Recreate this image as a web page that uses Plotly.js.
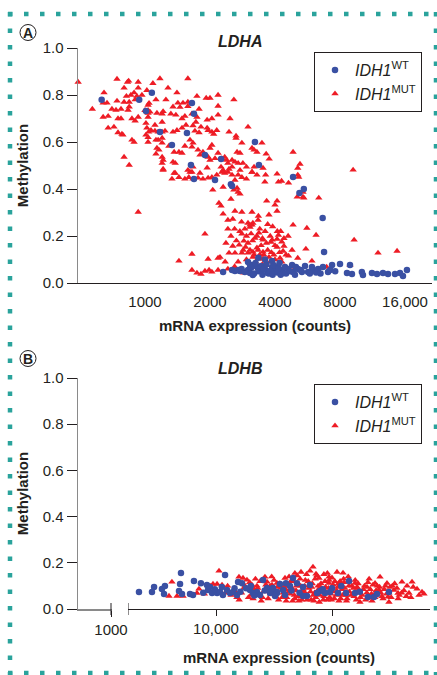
<!DOCTYPE html>
<html>
<head>
<meta charset="utf-8">
<script src="https://cdn.plot.ly/plotly-3.0.1.min.js"></script>
<style>html,body{margin:0;padding:0;background:#fff;}#chart{width:437px;height:675px;}</style>
</head>
<body>
<div id="chart"></div>
<script>
// ---------- DATA ----------
// Panel A (LDHA): [mRNA counts, methylation]
const ldhaWt = [
[630,0.78],[940,0.78],[1076,0.81],[1650,0.766],[1686,0.72],[1010,0.732],[1173,0.643],[1564,0.638],[1333,0.587],[1895,0.545],
[2250,0.528],[1632,0.502],[3230,0.60],[3370,0.502],[1686,0.443],[2110,0.438],[2500,0.42],[2530,0.413],[4850,0.451],[5440,0.40],
[5190,0.383],[6650,0.277],[6750,0.132],[3880,0.094],[8000,0.081],[8900,0.077],
[2300,0.047],[2530,0.055],[2610,0.051],[2700,0.055],[2750,0.051],[3000,0.089],[3130,0.077],[3000,0.055],[3064,0.043],[3160,0.034],
[3064,0.077],[3300,0.068],[3410,0.055],[3590,0.06],[3700,0.043],[3880,0.068],[4000,0.055],[4310,0.055],[4360,0.043],[4600,0.06],
[4800,0.077],[4850,0.047],[5110,0.06],[5330,0.047],[5510,0.072],[5690,0.047],[5930,0.068],[6000,0.055],[6330,0.06],[6670,0.068],
[7040,0.047],[7350,0.077],[8620,0.043],[9090,0.038],[10100,0.047],[10220,0.034],[11250,0.043],[11870,0.038],[12650,0.043],[13350,0.038],
[14380,0.038],[15170,0.043],[15660,0.03],[16340,0.055],
[2800,0.06],[2900,0.047],[3100,0.065],[3200,0.04],[3250,0.085],[3350,0.05],[3450,0.072],[3500,0.035],[3550,0.06],[3650,0.08],
[3750,0.04],[3800,0.052],[3900,0.035],[3950,0.075],[4100,0.045],[4150,0.065],[4250,0.035],[4450,0.068],[4500,0.04],[4700,0.05],
[4950,0.035],[5000,0.068],[5250,0.055],[5800,0.04],[6200,0.045],[6500,0.04],[7200,0.055],[7600,0.05],[3350,0.107],[3600,0.1],[4200,0.085]
];
const ldhaMut = [
[490,0.855],[742,0.868],[840,0.86],[830,0.855],[930,0.855],[1173,0.87],[1580,0.87],[1088,0.85],[800,0.83],[930,0.83],
[1020,0.82],[1278,0.83],[1406,0.81],[646,0.81],[890,0.81],[860,0.80],[968,0.80],[820,0.795],[917,0.795],[1124,0.78],
[1250,0.78],[1740,0.795],[1920,0.787],[2000,0.787],[2180,0.80],[2580,0.78],[640,0.766],[667,0.766],[742,0.775],[800,0.77],
[845,0.77],[900,0.78],[1044,0.765],[1033,0.757],[1420,0.766],[1500,0.766],[1580,0.77],[2180,0.753],[570,0.74],[703,0.74],
[734,0.736],[774,0.74],[845,0.75],[835,0.736],[1000,0.735],[1033,0.735],[1055,0.728],[1213,0.73],[1200,0.72],[1348,0.75],
[1580,0.752],[1452,0.748],[1780,0.74],[640,0.706],[675,0.71],[750,0.70],[774,0.70],[870,0.70],[900,0.69],[930,0.706],
[1033,0.706],[1033,0.723],[1136,0.723],[1200,0.685],[1318,0.72],[1390,0.715],[1484,0.70],[1530,0.71],[1650,0.72],[1720,0.685],
[1740,0.706],[1940,0.694],[2040,0.70],[2180,0.715],[2475,0.70],[675,0.66],[718,0.664],[750,0.64],[782,0.634],[790,0.63],
[1010,0.68],[1020,0.66],[1040,0.643],[1010,0.63],[1066,0.65],[1112,0.647],[1150,0.643],[1200,0.643],[1238,0.647],[1348,0.643],
[1406,0.65],[1484,0.66],[1548,0.672],[1668,0.67],[1703,0.647],[1780,0.64],[1816,0.664],[1940,0.66],[1960,0.65],[2040,0.643],
[2080,0.634],[2150,0.65],[2450,0.643],[2640,0.626],[2640,0.617],[3000,0.664],[800,0.536],[845,0.502],[870,0.609],[890,0.60],
[1033,0.60],[1033,0.62],[1124,0.609],[1150,0.609],[1200,0.617],[1136,0.574],[1160,0.566],[1124,0.549],[1200,0.536],[1213,0.523],
[1200,0.51],[1348,0.515],[1380,0.51],[1364,0.557],[1436,0.557],[1484,0.553],[1290,0.583],[1530,0.583],[1616,0.609],[1668,0.596],
[1650,0.579],[1580,0.48],[1616,0.472],[1760,0.566],[1797,0.545],[1855,0.557],[2000,0.574],[2040,0.587],[1960,0.536],[2000,0.523],
[2110,0.53],[2180,0.553],[2270,0.53],[2340,0.536],[2420,0.51],[2390,0.523],[2530,0.523],[2610,0.515],[2700,0.51],[2810,0.596],
[1940,0.49],[1797,0.468],[1668,0.494],[2250,0.494],[2300,0.48],[2450,0.485],[2530,0.494],[2754,0.48],[2840,0.51],[2950,0.494],
[2670,0.557],[2754,0.553],[1213,0.485],[1380,0.468],[1200,0.596],[1112,0.672],
[3480,0.596],[3130,0.574],[3200,0.566],[3300,0.557],[3640,0.549],[3760,0.528],[4850,0.557],[5224,0.506],[5100,0.489],[3200,0.494],
[3520,0.489],[9200,0.481],
[1213,0.48],[1364,0.468],[1436,0.45],[1333,0.443],[1530,0.443],[1596,0.45],[1650,0.472],[1668,0.443],[1760,0.447],[1855,0.443],
[1960,0.447],[2040,0.45],[2150,0.46],[2270,0.472],[2340,0.468],[2420,0.472],[2530,0.46],[2610,0.438],[2700,0.46],[2810,0.45],
[2950,0.443],[3130,0.472],[2060,0.396],[2300,0.408],[2580,0.396],[2700,0.387],[2754,0.379],[2670,0.404],[2200,0.34],[2250,0.328],
[2500,0.357],[930,0.302],[2300,0.294],[2610,0.306],[2810,0.302],[2550,0.272],[2420,0.268],[2420,0.23],[3000,0.255],[3130,0.247],
[3064,0.238],[1895,0.209],[2810,0.209],[2870,0.179],[2370,0.17],[2550,0.157],[2730,0.162],[2920,0.153],[3064,0.14],[1650,0.123],
[1436,0.094],[1960,0.102],[2180,0.106],[2225,0.11],[2450,0.128],[2610,0.128],[2810,0.128],[3000,0.128],[3160,0.132],[1650,0.055],
[1740,0.043],[1816,0.038],[1895,0.051],[1980,0.055],[2040,0.047],[2180,0.055],[2420,0.06],[2730,0.055],[2870,0.043],[3000,0.06],
[3130,0.472],[3300,0.46],[3620,0.46],[3590,0.43],[4090,0.464],[4150,0.43],[4290,0.434],[4620,0.426],[5100,0.46],[5150,0.451],
[5390,0.387],[5070,0.366],[5390,0.366],[5440,0.362],[6380,0.362],[3660,0.349],[4000,0.332],[4090,0.349],[4090,0.306],[3130,0.302],
[3160,0.255],[3340,0.268],[3064,0.247],[4850,0.247],[5620,0.234],[6200,0.204],[9300,0.183],[3370,0.213],[3230,0.191],[3520,0.183],
[3880,0.183],[4150,0.204],[4090,0.187],[3830,0.174],[3340,0.14],[3520,0.132],[3700,0.14],[4090,0.153],[4400,0.157],[4360,0.136],
[5560,0.145],[12000,0.128],[14700,0.136],[3160,0.11],[3410,0.106],[3520,0.102],[4220,0.106],[4620,0.115],[5100,0.106],[5930,0.094],
[3300,0.068],[4090,0.068],[4950,0.068],[6940,0.068],[8900,0.077],
[2900,0.23],[3300,0.2],[3450,0.16],[3600,0.22],[3750,0.11],[3950,0.12],[2950,0.1],[3250,0.09],[3500,0.08],[3800,0.09],
[4000,0.1],[3700,0.25],[3900,0.24],[4250,0.22],[4400,0.19],[3150,0.18],[2950,0.2],[2650,0.18],[2750,0.22],[2600,0.23],
[3400,0.12],[3650,0.075],[3950,0.08],[4300,0.09],
[2700,0.09],[2850,0.14],[3000,0.17],[3100,0.21],[3200,0.12],[3300,0.15],[3400,0.23],[3500,0.19],[3550,0.12],[3650,0.17],
[3800,0.2],[3850,0.13],[4000,0.16],[4100,0.22],[4200,0.13],[4300,0.175],[4500,0.12],[4600,0.2],[4800,0.14],[2800,0.26],
[2500,0.2],[2350,0.09],[2600,0.07],[3350,0.285],[3750,0.29]
];
// Panel B (LDHB): [mRNA counts, methylation]
const ldhbWt = [
[3360,0.074],[4480,0.074],[4660,0.095],[5340,0.087],[5600,0.10],[5520,0.065],[6980,0.156],[6900,0.108],[6810,0.078],[7070,0.065],
[8100,0.121],[7760,0.065],[8020,0.061],[8700,0.112],[9220,0.104],[9310,0.082],[9480,0.095],[9660,0.069],[10780,0.147],[10090,0.069],
[10340,0.074],[10600,0.061],[10950,0.082],[11200,0.069],[11470,0.074],[11810,0.061],[11900,0.117],[12240,0.112],[12930,0.082],[13190,0.069],
[13530,0.074],[13790,0.061],[14050,0.126],[14400,0.091],[14830,0.074],[15260,0.069],[16640,0.134],[16030,0.112],[15520,0.108],[21470,0.121],
[24910,0.074],[23880,0.065],[23620,0.052],[23100,0.052],[21980,0.069],[21210,0.069],[20520,0.069],[19830,0.074],[19400,0.069],[18970,0.078],
[18710,0.069],[17840,0.056],[17500,0.056],[18100,0.104],[17500,0.095],[16980,0.112],[16380,0.10],[15780,0.082],[15260,0.074],[14660,0.069],
[15090,0.056],[15950,0.061],[14910,0.091],[12600,0.09],[13000,0.1],[12100,0.075],[11600,0.09],[14200,0.08],[16500,0.08],[17200,0.07],
[19200,0.085],[20000,0.09],[20800,0.1],[22400,0.075],[9900,0.085],[8900,0.07],[10500,0.095],[13300,0.058]
];
const ldhbMut = [
[6200,0.117],[5950,0.056],[6640,0.056],[7160,0.056],[8530,0.087],[8360,0.069],[9740,0.108],[10260,0.165],[10090,0.108],[10520,0.104],
[11980,0.139],[12330,0.134],[12670,0.126],[13100,0.104],[13530,0.10],[14220,0.139],[14400,0.117],[14830,0.104],[18360,0.182],[17330,0.16],
[18620,0.152],[20430,0.16],[20950,0.156],[19740,0.139],[18880,0.134],[19740,0.112],[15950,0.134],[15260,0.112],[14660,0.10],[21980,0.112],
[22160,0.095],[23020,0.095],[23530,0.104],[23710,0.112],[24140,0.139],[24740,0.112],[25000,0.095],[25340,0.082],[25690,0.069],[26030,0.117],
[26470,0.10],[26900,0.117],[27330,0.087],[26640,0.069],[27760,0.074],[27930,0.065],[24050,0.082],[24830,0.052],[24910,0.03],[22410,0.03],
[23280,0.048],[23450,0.035],
[12200,0.07],[12800,0.05],[13300,0.085],[13700,0.06],[14100,0.075],[14500,0.045],[14900,0.085],[15100,0.06],[15400,0.04],[15600,0.09],
[15800,0.07],[16100,0.05],[16200,0.1],[16400,0.065],[16600,0.035],[16700,0.12],[16900,0.08],[17100,0.055],[17300,0.1],[17400,0.04],
[17600,0.075],[17700,0.125],[17900,0.06],[18000,0.09],[18200,0.04],[18300,0.11],[18500,0.07],[18600,0.05],[18800,0.1],[18900,0.03],
[19100,0.08],[19300,0.055],[19400,0.12],[19600,0.04],[19700,0.09],[19900,0.065],[20100,0.105],[20200,0.045],[20400,0.08],[20600,0.035],
[20700,0.12],[20900,0.06],[21100,0.09],[21300,0.045],[21500,0.075],[21700,0.1],[21900,0.055],[22100,0.04],[22300,0.08],[22600,0.06],
[22800,0.1],[23000,0.07],[23300,0.085],[23600,0.06],[23900,0.1],[24200,0.07],[24500,0.085],[24700,0.065],[25200,0.1],[25600,0.09],
[26200,0.08],[16300,0.14],[17000,0.145],[17800,0.15],[18700,0.145],[19300,0.15],[20000,0.135],[21000,0.13],[22000,0.125],[15000,0.125],
[13800,0.12],[16000,0.085],[17500,0.085],[19000,0.095],[20500,0.095],[22200,0.09],[15300,0.095],[13000,0.06],[11800,0.05],[11000,0.1],
[11300,0.06],[9000,0.065],[9500,0.1],[12500,0.1],[14000,0.05],[16800,0.045],[18400,0.06],[19800,0.05],[21200,0.06],[23700,0.05],
[24400,0.045],[25800,0.06],[26800,0.05],
[12400,0.09],[12900,0.115],[13200,0.045],[13600,0.09],[13900,0.035],[14300,0.105],[14700,0.065],[15200,0.075],[15500,0.11],[15700,0.05],
[15900,0.1],[16050,0.035],[16250,0.075],[16450,0.12],[16550,0.09],[16750,0.06],[16950,0.1],[17150,0.035],[17250,0.13],[17450,0.065],
[17650,0.1],[17850,0.04],[17950,0.12],[18150,0.075],[18250,0.095],[18450,0.035],[18550,0.13],[18750,0.08],[18950,0.06],[19050,0.11],
[19250,0.04],[19450,0.095],[19550,0.07],[19750,0.125],[19950,0.04],[20050,0.075],[20250,0.12],[20350,0.06],[20550,0.11],[20750,0.045],
[20850,0.085],[21050,0.115],[21250,0.035],[21450,0.1],[21650,0.06],[21850,0.09],[22050,0.07],[22250,0.11],[22450,0.05],[22700,0.085],
[22900,0.04],[23100,0.115],[23400,0.065],[23800,0.08],[24100,0.095],[24300,0.055],[24600,0.1],[24900,0.07],[25100,0.05],[25400,0.11],
[25700,0.045],[26000,0.07],[26400,0.055],[27000,0.095],[27500,0.06],[11600,0.08],[12000,0.04],[10800,0.07],[13400,0.13],[14800,0.14],
[16800,0.155],[18100,0.165],[19600,0.155],[21400,0.14],[23200,0.13]
];
// Tick labels
const ldhaTickVals = [1000, 2000, 4000, 8000, 16000];
const ldhaTickText = ['1000', '2000', '4000', '8000', '16,000'];
const yTickVals = [0, 0.2, 0.4, 0.6, 0.8, 1.0];
const yTickText = ['0.0', '0.2', '0.4', '0.6', '0.8', '1.0'];
const ldhbLowTickVals = [1000];
const ldhbLowTickText = ['1000'];
const ldhbBreakStart = 2414;
const ldhbTickVals = [10000, 20000];
const ldhbTickText = ['10,000', '20,000'];
const seriesNames = ['<i>IDH1</i><sup>WT</sup>', '<i>IDH1</i><sup>MUT</sup>'];

// ---------- STYLE ----------
const W = 437, H = 675;
const px = v => v / W, py = v => 1 - v / H;
const FONT = 'Liberation Sans, Arial, Helvetica, sans-serif';
const BLUE = '#3a50a3', RED = '#ee1c25', TEAL = '#2aa39c', INK = '#231f20';
const xs = a => a.map(d => d[0]), ys = a => a.map(d => d[1]);

const wtMarker = {symbol: 'circle', size: 6.5, color: BLUE};
const mutMarker = {symbol: 'triangle-up', size: 6.5, color: RED};

const traces = [
  {type: 'scatter', mode: 'markers', x: xs(ldhaMut), y: ys(ldhaMut), xaxis: 'x', yaxis: 'y',
   name: seriesNames[1], marker: mutMarker, legend: 'legend', legendrank: 2, cliponaxis: false},
  {type: 'scatter', mode: 'markers', x: xs(ldhaWt), y: ys(ldhaWt), xaxis: 'x', yaxis: 'y',
   name: seriesNames[0], marker: wtMarker, legend: 'legend', legendrank: 1, cliponaxis: false},
  {type: 'scatter', mode: 'markers', x: [], y: [], xaxis: 'x3', yaxis: 'y2', showlegend: false, hoverinfo: 'skip'},
  {type: 'scatter', mode: 'markers', x: xs(ldhbMut), y: ys(ldhbMut), xaxis: 'x4', yaxis: 'y2',
   name: seriesNames[1], marker: mutMarker, legend: 'legend2', legendrank: 2, cliponaxis: false},
  {type: 'scatter', mode: 'markers', x: xs(ldhbWt), y: ys(ldhbWt), xaxis: 'x4', yaxis: 'y2',
   name: seriesNames[0], marker: wtMarker, legend: 'legend2', legendrank: 1, cliponaxis: false}
];

const tickFont = {family: FONT, size: 15, color: INK};
const titleFont = {family: FONT, size: 15, color: INK, weight: 'bold'};

const yBase = {
  range: [0, 1.0], tickvals: yTickVals, ticktext: yTickText, ticks: 'outside', ticklen: 10,
  tickcolor: INK, tickwidth: 1, showline: true, linecolor: '#8a8a8a', linewidth: 1.5,
  showgrid: false, zeroline: false, tickfont: tickFont, fixedrange: true,
  title: {text: '<b>Methylation</b>', font: titleFont, standoff: 10}
};

const legendBase = {
  font: {family: FONT, size: 16, color: INK}, bordercolor: INK, borderwidth: 1, bgcolor: '#fff',
  xanchor: 'right', yanchor: 'top', itemwidth: 30, tracegroupgap: 0, traceorder: 'normal'
};

const ann = (text, x, y, size) => ({text: text, xref: 'paper', yref: 'paper', x: px(x), y: py(y),
  xanchor: 'center', yanchor: 'middle', showarrow: false, font: {family: FONT, size: size, color: INK}});

const layout = {
  width: W, height: H, margin: {l: 0, r: 0, t: 0, b: 0},
  paper_bgcolor: '#fff', plot_bgcolor: 'rgba(0,0,0,0)', showlegend: true,
  font: {family: FONT, color: INK},
  xaxis: {
    type: 'log', domain: [px(78), px(432)], range: [2.6897, 4.3292], anchor: 'y',
    tickvals: ldhaTickVals, ticktext: ldhaTickText, ticks: '', ticklabelstandoff: 5,
    showline: true, linecolor: INK, linewidth: 1,
    showgrid: false, zeroline: false, tickfont: tickFont, fixedrange: true,
    title: {text: '<b>mRNA expression (counts)</b>', font: titleFont, standoff: 11}
  },
  yaxis: Object.assign({}, yBase, {domain: [py(283), py(48)], anchor: 'x'}),
  xaxis3: {
    domain: [px(78), px(112)], range: [0, 1030], anchor: 'y2',
    tickvals: ldhbLowTickVals, ticktext: ldhbLowTickText, ticks: 'outside', ticklen: 6, tickcolor: INK,
    showline: true, linecolor: '#8a8a8a', linewidth: 1.5, showgrid: false, zeroline: false,
    tickfont: tickFont, fixedrange: true
  },
  xaxis4: {
    domain: [px(128), px(430)], range: [ldhbBreakStart, 28448], anchor: 'y2',
    tickvals: ldhbTickVals, ticktext: ldhbTickText, ticks: 'outside', ticklen: 6, tickcolor: INK,
    showline: true, linecolor: INK, linewidth: 1, showgrid: false, zeroline: false,
    tickfont: tickFont, fixedrange: true,
    title: {text: '<b>mRNA expression (counts)</b>', font: titleFont, standoff: 16}
  },
  yaxis2: Object.assign({}, yBase, {domain: [py(609), py(378)], anchor: 'x3'}),
  legend: Object.assign({}, legendBase, {x: px(422), y: py(52)}),
  legend2: Object.assign({}, legendBase, {x: px(422), y: py(384)}),
  annotations: [
    ann('<b><i>LDHA</i></b>', 240, 42, 16),
    ann('<b><i>LDHB</i></b>', 240, 368, 16),
    ann('<b>A</b>', 28, 32.5, 14),
    ann('<b>B</b>', 28, 358.5, 14)
  ],
  shapes: [
    // panel label circles
    {type: 'circle', xref: 'paper', yref: 'paper', x0: px(20), x1: px(36), y0: py(24.5), y1: py(40.5),
     line: {color: INK, width: 1}},
    {type: 'circle', xref: 'paper', yref: 'paper', x0: px(20), x1: px(36), y0: py(350.5), y1: py(366.5),
     line: {color: INK, width: 1}},
    // axis break marks (LDHB), crossing the axis line
    {type: 'line', xref: 'x3', yref: 'paper', x0: 1000, x1: 1000, y0: py(615), y1: py(603),
     line: {color: INK, width: 1}},
    {type: 'line', xref: 'x4', yref: 'paper', x0: ldhbBreakStart, x1: ldhbBreakStart, y0: py(615), y1: py(603),
     line: {color: INK, width: 1}},
    // dotted frame
    {type: 'line', xref: 'paper', yref: 'paper', x0: px(8), x1: 1, y0: py(14), y1: py(14),
     line: {color: TEAL, width: 4.5, dash: '4.5px,11.5px'}},
    {type: 'line', xref: 'paper', yref: 'paper', x0: px(8), x1: 1, y0: py(673), y1: py(673),
     line: {color: TEAL, width: 4.5, dash: '4.5px,11.5px'}},
    {type: 'line', xref: 'paper', yref: 'paper', x0: px(10), x1: px(10), y0: py(12), y1: 0,
     line: {color: TEAL, width: 4.5, dash: '4.5px,12px'}},
    {type: 'line', xref: 'paper', yref: 'paper', x0: px(436), x1: px(436), y0: py(12), y1: 0,
     line: {color: TEAL, width: 4.5, dash: '4.5px,12px'}}
  ]
};

Plotly.newPlot('chart', traces, layout, {staticPlot: true, displayModeBar: false});
</script>
</body>
</html>
